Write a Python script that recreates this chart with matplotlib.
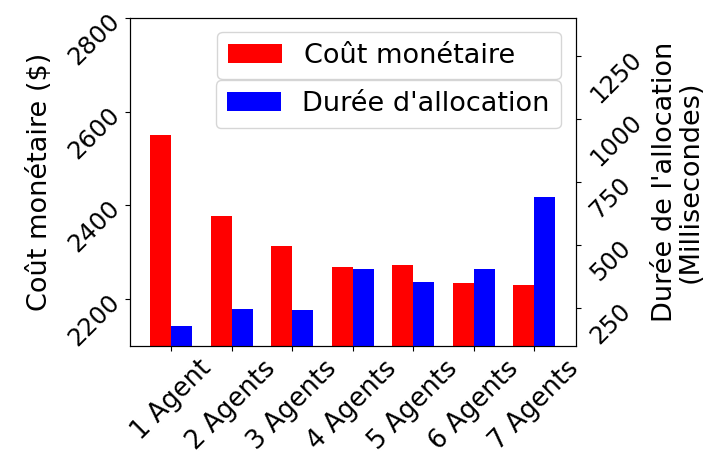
#!/usr/bin/env python3
#
#   Coût monétaire vs durée d'allocation selon le nombre d'agents
#

import numpy as np
import matplotlib
matplotlib.use("Agg")
import matplotlib.pyplot as plt

LABEL_SIZE = 19.5
XTICK_SIZE = 18.5
YTICK_SIZE = 17.5

agents = ["1 Agent", "2 Agents", "3 Agents", "4 Agents",
          "5 Agents", "6 Agents", "7 Agents"]
cout = [2550, 2377, 2313, 2268, 2272, 2234, 2229]
duree = [177, 245, 241, 404, 352, 404, 691]

x = np.arange(len(agents))
width = 0.35

fig, ax1 = plt.subplots(figsize=(7.17, 4.57), dpi=100)
fig.subplots_adjust(left=0.181, right=0.803, top=0.96, bottom=0.2435)
ax2 = ax1.twinx()

ax1.bar(x - width / 2, cout, width, color="red", label="Coût monétaire    ")
ax2.bar(x + width / 2, duree, width, color="blue", label="Durée d'allocation")

ax1.set_ylim(2100, 2800)
ax2.set_ylim(100, 1400)
ax1.set_yticks([2200, 2400, 2600, 2800])
ax2.set_yticks([250, 500, 750, 1000, 1250])

ax1.set_xticks(x)
ax1.set_xticklabels(agents, rotation=45, fontsize=XTICK_SIZE)
ax1.tick_params(axis="y", labelrotation=45, labelsize=YTICK_SIZE, pad=0)
ax2.tick_params(axis="y", labelrotation=45, labelsize=YTICK_SIZE)

ax1.set_ylabel("Coût monétaire ($)", fontsize=LABEL_SIZE, labelpad=8)
ax2.set_ylabel("Durée de l'allocation\n(Millisecondes)", fontsize=LABEL_SIZE,
               linespacing=1.0)

# Two separate legend boxes, one per axis
ax1.legend(loc="upper right", bbox_to_anchor=(0.966, 0.959),
           borderaxespad=0, fontsize=LABEL_SIZE)
ax2.legend(loc="upper right", bbox_to_anchor=(0.966, 0.81),
           borderaxespad=0, fontsize=LABEL_SIZE)

fig.savefig("out.png")
